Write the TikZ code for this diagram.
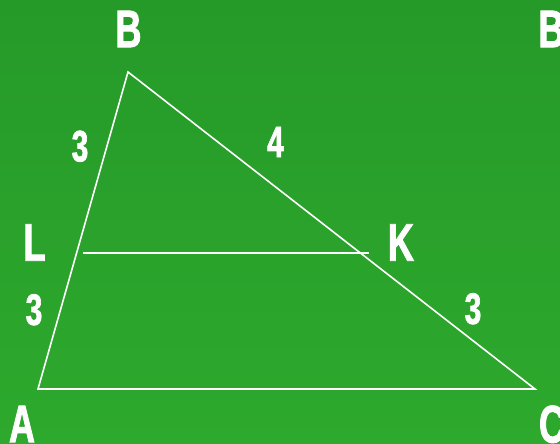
\documentclass[tikz,border=0pt]{standalone}
\usepackage{fontspec}
\newfontfamily\lab{Liberation Sans}[FakeStretch=0.68,FakeBold=1.5]
\begin{document}
\begin{tikzpicture}[x=1pt,y=-1pt,
  edge/.style={draw=white,line width=1.6pt,line join=miter},
  letter/.style={text=white,inner sep=0pt,text depth=0pt,font=\lab\bfseries\fontsize{53}{53}\selectfont},
  num/.style={text=white,inner sep=0pt,text depth=0pt,font=\lab\bfseries\fontsize{44}{44}\selectfont}]
\useasboundingbox (0,0) rectangle (560,444);
\clip (0,0) rectangle (560,444);
\shade[top color={rgb,255:red,38;green,154;blue,41},bottom color={rgb,255:red,45;green,169;blue,45}] (0,0) rectangle (560,444);
\coordinate (B) at (128,72);
\coordinate (A) at (38,389);
\coordinate (C) at (535,389);
\coordinate (L) at (83,253);
\coordinate (K) at (369,253);
\draw[edge] (A) -- (B) -- (C) -- cycle;
\draw[edge,line width=1.3pt] (L) -- (K);
\node[letter] (lB) at (128.5,29) {B};
\node[letter] (lB2) at (551.5,29) {B};
\node[letter] (lL) at (34.5,242.5) {L};
\node[letter] (lK) at (401,242.5) {K};
\node[letter] (lA) at (22,424) {A};
\node[letter] (lC) at (552,424) {C};
\node[num] (n1) at (80,146) {3};
\node[num] (n2) at (275.5,142) {4};
\node[num] (n3) at (34,309.5) {3};
\node[num] (n4) at (473,308.5) {3};
\end{tikzpicture}
\end{document}
